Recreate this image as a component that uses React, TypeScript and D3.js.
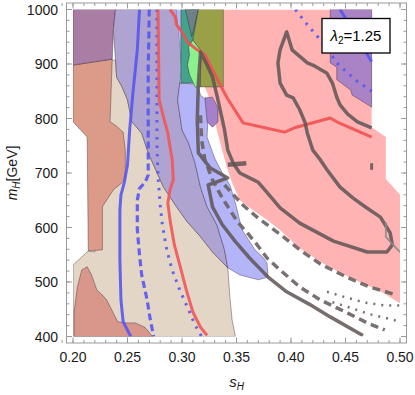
import React from "react";
import * as d3 from "d3";

type Pt = [number, number];

// axes
const xMajor = [0.2, 0.25, 0.3, 0.35, 0.4, 0.45, 0.5];
const yMajor = [400, 500, 600, 700, 800, 900, 1000];
const xMinor = d3.range(19, 51).map((i) => i / 100);
const yMinor = d3.range(400, 1001, 20);

// shaded regions (s_H, m_H)
const beige: Pt[] = [[0.2, 400], [0.349, 400], [0.346, 430], [0.344, 471], [0.343, 498], [0.342, 526], [0.328, 555], [0.317, 583], [0.305, 610], [0.295, 638], [0.283, 674], [0.269, 737], [0.263, 773], [0.254, 794], [0.25, 834], [0.245, 858], [0.24, 876], [0.239, 907], [0.229, 907], [0.22, 555], [0.214, 557], [0.2, 531]];
const salmonTop: Pt[] = [[0.2, 898], [0.236, 909], [0.234, 794], [0.24, 786], [0.246, 775], [0.248, 742], [0.248, 687], [0.237, 669], [0.227, 638], [0.227, 559], [0.214, 557], [0.213, 766], [0.2, 794]];
const salmonLow: Pt[] = [[0.201, 400], [0.201, 445], [0.204, 491], [0.208, 522], [0.213, 528], [0.217, 513], [0.222, 485], [0.227, 476], [0.231, 467], [0.237, 443], [0.241, 427], [0.248, 425], [0.257, 425], [0.266, 417], [0.273, 400]];
const purpleLeft: Pt[] = [[0.2, 1000], [0.239, 1000], [0.237, 962], [0.236, 909], [0.2, 898]];
const lavender: Pt[] = [[0.239, 1000], [0.295, 1000], [0.298, 939], [0.3, 889], [0.298, 865], [0.296, 834], [0.3, 779], [0.306, 755], [0.312, 718], [0.317, 674], [0.323, 638], [0.332, 605], [0.339, 559], [0.342, 526], [0.328, 555], [0.317, 583], [0.305, 610], [0.295, 638], [0.283, 674], [0.269, 737], [0.263, 773], [0.254, 794], [0.25, 834], [0.245, 858], [0.24, 876], [0.239, 907], [0.237, 962]];
const pink: Pt[] = [[0.338, 1000], [0.474, 1000], [0.474, 784], [0.487, 766], [0.487, 689], [0.5, 660], [0.5, 461], [0.482, 483], [0.463, 500], [0.445, 517], [0.427, 537], [0.408, 562], [0.39, 595], [0.378, 614], [0.365, 632], [0.353, 650], [0.346, 682], [0.341, 711], [0.332, 779], [0.328, 816], [0.324, 843], [0.321, 858], [0.338, 858]];
const blueSliver: Pt[] = [[0.295, 1000], [0.299, 1000], [0.299, 865], [0.298, 865], [0.3, 889], [0.298, 939]];
const blueRegion: Pt[] = [[0.298, 865], [0.314, 863], [0.317, 843], [0.322, 834], [0.324, 806], [0.323, 766], [0.33, 727], [0.337, 700], [0.344, 678], [0.349, 645], [0.355, 596], [0.367, 559], [0.374, 546], [0.378, 535], [0.379, 509], [0.37, 504], [0.353, 513], [0.342, 526], [0.339, 559], [0.332, 605], [0.323, 638], [0.317, 674], [0.312, 718], [0.306, 755], [0.3, 779], [0.296, 834]];
const purpleSliver: Pt[] = [[0.321, 838], [0.328, 839], [0.333, 819], [0.333, 794], [0.328, 784], [0.323, 794]];
const purpleRight: Pt[] = [[0.436, 1000], [0.474, 1000], [0.474, 821], [0.456, 843], [0.455, 852], [0.442, 871], [0.442, 894], [0.436, 902]];
const teal: Pt[] = [[0.299, 1000], [0.315, 1000], [0.31, 944], [0.306, 931], [0.307, 917], [0.305, 898], [0.307, 880], [0.312, 865], [0.299, 865]];
const slate: Pt[] = [[0.303, 1000], [0.315, 1000], [0.309, 950]];
const green: Pt[] = [[0.31, 944], [0.317, 926], [0.317, 858], [0.312, 858], [0.307, 880], [0.305, 898], [0.307, 917], [0.306, 931]];
const olive: Pt[] = [[0.315, 1000], [0.338, 1000], [0.338, 858], [0.317, 858], [0.317, 926], [0.31, 944]];

// curves
const blueSolid: Pt[] = [[0.261, 1000], [0.259, 926], [0.255, 847], [0.252, 779], [0.25, 715], [0.247, 682], [0.244, 660], [0.243, 632], [0.243, 541], [0.244, 467], [0.246, 427], [0.253, 400]];
const blueDashed: Pt[] = [[0.27, 1000], [0.269, 889], [0.269, 779], [0.269, 696], [0.266, 682], [0.261, 672], [0.259, 650], [0.259, 596], [0.261, 550], [0.263, 513], [0.268, 467], [0.271, 430], [0.274, 400]];
const blueDotted: Pt[] = [[0.277, 1000], [0.277, 834], [0.277, 755], [0.278, 693], [0.28, 641], [0.282, 605], [0.286, 559], [0.291, 522], [0.298, 485], [0.306, 449], [0.312, 421], [0.318, 400]];
const blueSolidRight: Pt[] = [[0.445, 1000], [0.474, 904]];
const blueDottedRight: Pt[] = [[0.404, 1000], [0.415, 972], [0.427, 944], [0.436, 920], [0.442, 902], [0.451, 885], [0.461, 868], [0.474, 850]];
const redLeft: Pt[] = [[0.278, 1000], [0.279, 834], [0.283, 803], [0.287, 773], [0.291, 724], [0.292, 687], [0.289, 669], [0.287, 645], [0.289, 614], [0.293, 568], [0.298, 531], [0.304, 485], [0.31, 445], [0.317, 417], [0.323, 402]];
const redRight: Pt[] = [[0.289, 1000], [0.294, 986], [0.295, 972], [0.3, 959], [0.305, 940], [0.314, 926], [0.321, 917], [0.328, 889], [0.341, 839], [0.356, 792], [0.376, 783], [0.394, 775], [0.405, 784], [0.436, 801], [0.442, 794], [0.474, 766]];
const graySolid: Pt[] = [[0.474, 783], [0.461, 794], [0.452, 808], [0.445, 825], [0.442, 839], [0.438, 865], [0.433, 883], [0.422, 896], [0.415, 902], [0.401, 926], [0.396, 959], [0.39, 926], [0.388, 902], [0.39, 865], [0.396, 843], [0.402, 838], [0.408, 816], [0.413, 792], [0.415, 773], [0.42, 742], [0.427, 724], [0.433, 706], [0.445, 674], [0.457, 654], [0.468, 638], [0.482, 619], [0.491, 590], [0.493, 568], [0.488, 555], [0.47, 555], [0.439, 575], [0.408, 608], [0.39, 636], [0.376, 669], [0.37, 683], [0.362, 691], [0.353, 700], [0.347, 718], [0.342, 742], [0.339, 779], [0.335, 816], [0.332, 843], [0.328, 876], [0.323, 898], [0.317, 922], [0.315, 865], [0.314, 797], [0.315, 737], [0.326, 709], [0.342, 691], [0.324, 678], [0.328, 638], [0.337, 605], [0.349, 574], [0.362, 544], [0.379, 509], [0.396, 482], [0.417, 459], [0.436, 436], [0.466, 402]];
const grayStub: Pt[] = [[0.342, 715], [0.359, 718]];
const grayTick: Pt[] = [[0.474, 718], [0.474, 706]];
const grayThin: Pt[] = [[0.487, 610], [0.487, 583], [0.5, 555]];
const grayDashedMid: Pt[] = [[0.317, 806], [0.318, 761], [0.321, 724], [0.328, 687], [0.337, 654], [0.344, 632], [0.351, 610], [0.36, 590], [0.369, 568], [0.378, 544], [0.39, 522], [0.408, 491], [0.427, 467], [0.452, 443], [0.47, 425], [0.486, 412]];
const grayDashedTop: Pt[] = [[0.339, 678], [0.356, 641], [0.37, 617], [0.393, 583], [0.408, 559], [0.427, 533], [0.451, 509], [0.472, 491], [0.497, 476]];
const grayDotted1: Pt[] = [[0.433, 482], [0.45, 472], [0.468, 462], [0.486, 457], [0.5, 457]];
const grayDotted2: Pt[] = [[0.438, 463], [0.454, 453], [0.472, 441], [0.491, 432], [0.5, 427]];

const regions: { pts: Pt[]; fill: string; edge: boolean }[] = [
  { pts: beige, fill: "#e4d6c7", edge: true },
  { pts: salmonTop, fill: "#dc9a88", edge: true },
  { pts: purpleLeft, fill: "#a97da4", edge: true },
  { pts: salmonLow, fill: "#d9968a", edge: true },
  { pts: lavender, fill: "#afa3d1", edge: true },
  { pts: pink, fill: "#ffb3b3", edge: false },
  { pts: blueSliver, fill: "#b7b7f7", edge: false },
  { pts: blueRegion, fill: "#b4b4f9", edge: true },
  { pts: purpleSliver, fill: "#a680c8", edge: true },
  { pts: purpleRight, fill: "#a983c6", edge: true },
  { pts: teal, fill: "#43a38d", edge: true },
  { pts: slate, fill: "#6d8288", edge: true },
  { pts: green, fill: "#8cf08c", edge: true },
  { pts: olive, fill: "#9aa047", edge: true },
];

const curves: { pts: Pt[]; color: string; w: number; dash?: string; op?: number }[] = [
  { pts: blueSolid, color: "#5656ee", w: 3 },
  { pts: blueDashed, color: "#5656ee", w: 3.2, dash: "7,4" },
  { pts: blueDotted, color: "#5656ee", w: 3, dash: "2.5,6" },
  { pts: blueSolidRight, color: "#5656ee", w: 3 },
  { pts: blueDottedRight, color: "#5656ee", w: 3, dash: "2.5,6" },
  { pts: redLeft, color: "#f25656", w: 3, op: 0.9 },
  { pts: redRight, color: "#f25050", w: 3, op: 0.9 },
  { pts: graySolid, color: "#5e5454", w: 3.5, op: 0.85 },
  { pts: grayStub, color: "#5e5454", w: 4.5, op: 0.85 },
  { pts: grayTick, color: "#5e5454", w: 3, op: 0.85 },
  { pts: grayThin, color: "#8a8a8a", w: 1.8, op: 0.9 },
  { pts: grayDashedMid, color: "#6a6262", w: 3.5, dash: "8,5", op: 0.9 },
  { pts: grayDashedTop, color: "#6a6262", w: 3.5, dash: "8,5", op: 0.9 },
  { pts: grayDotted1, color: "#6a6262", w: 2.5, dash: "2,6", op: 0.9 },
  { pts: grayDotted2, color: "#6a6262", w: 2.5, dash: "2,6", op: 0.9 },
];

export default function App() {
  const x = d3.scaleLinear().domain([0.2, 0.5]).range([73, 400]);
  const y = d3.scaleLinear().domain([400, 1000]).range([336.5, 9.5]);
  const line = d3.line<Pt>().x((d) => x(d[0])).y((d) => y(d[1]));
  const pad = 6.5;
  const fx0 = x(0.2) - pad, fx1 = x(0.5) + pad;
  const fy0 = y(1000) - pad, fy1 = y(400) + pad;
  const axisColor = "#9a9a9a";
  const font = "'Liberation Sans', Arial, sans-serif";

  return (
    <svg width={415} height={395} style={{ position: "absolute", left: 0, top: 0, background: "#fff" }} fontFamily={font}>
      <defs>
        <clipPath id="plotClip">
          <rect x={x(0.2)} y={y(1000)} width={x(0.5) - x(0.2)} height={y(400) - y(1000)} />
        </clipPath>
      </defs>

      <g clipPath="url(#plotClip)">
        {regions.map((r, i) => (
          <path key={i} d={line(r.pts) + "Z"} fill={r.fill}
            stroke={r.edge ? "rgba(40,30,40,0.55)" : "none"} strokeWidth={0.7} strokeLinejoin="round" />
        ))}
        {curves.map((c, i) => (
          <path key={i} d={line(c.pts) ?? ""} fill="none" stroke={c.color} strokeWidth={c.w}
            strokeDasharray={c.dash} strokeOpacity={c.op ?? 0.9} strokeLinejoin="round" />
        ))}
      </g>

      {/* frame */}
      <rect x={fx0} y={fy0} width={fx1 - fx0} height={fy1 - fy0} fill="none" stroke={axisColor} strokeWidth={1} />

      {/* minor ticks */}
      {xMinor.map((v) => (
        <g key={"xm" + v}>
          <line x1={x(v)} x2={x(v)} y1={fy1} y2={fy1 - 3} stroke={axisColor} />
          <line x1={x(v)} x2={x(v)} y1={fy0} y2={fy0 + 3} stroke={axisColor} />
        </g>
      ))}
      {yMinor.map((v) => (
        <g key={"ym" + v}>
          <line x1={fx0} x2={fx0 + 3} y1={y(v)} y2={y(v)} stroke={axisColor} />
          <line x1={fx1} x2={fx1 - 3} y1={y(v)} y2={y(v)} stroke={axisColor} />
        </g>
      ))}
      {/* major ticks and labels */}
      {xMajor.map((v) => (
        <g key={"x" + v}>
          <line x1={x(v)} x2={x(v)} y1={fy1} y2={fy1 - 5.5} stroke={axisColor} />
          <line x1={x(v)} x2={x(v)} y1={fy0} y2={fy0 + 5.5} stroke={axisColor} />
          <text x={x(v)} y={362} textAnchor="middle" fontSize={14} fill="#1a1a1a">{d3.format(".2f")(v)}</text>
        </g>
      ))}
      {yMajor.map((v) => (
        <g key={"y" + v}>
          <line x1={fx0} x2={fx0 + 5.5} y1={y(v)} y2={y(v)} stroke={axisColor} />
          <line x1={fx1} x2={fx1 - 5.5} y1={y(v)} y2={y(v)} stroke={axisColor} />
          <text x={58} y={y(v)} dy="0.36em" textAnchor="end" fontSize={14} fill="#1a1a1a">{v}</text>
        </g>
      ))}

      {/* axis labels */}
      <text transform={`translate(17,${(y(400) + y(1000)) / 2}) rotate(-90)`} textAnchor="middle" fontSize={14} fill="#1a1a1a">
        <tspan fontStyle="italic">m</tspan>
        <tspan fontStyle="italic" fontSize={10} dy={3}>H</tspan>
        <tspan dy={-3}>[GeV]</tspan>
      </text>
      <text x={(x(0.2) + x(0.5)) / 2} y={387} textAnchor="middle" fontSize={15} fill="#1a1a1a">
        <tspan fontStyle="italic">s</tspan>
        <tspan fontStyle="italic" fontSize={10} dy={3}>H</tspan>
      </text>

      {/* label box */}
      <rect x={322} y={18.5} width={68} height={34.5} fill="#fff" stroke="#000" strokeWidth={1.3} />
      <text x={356} y={41} textAnchor="middle" fontSize={15} fill="#000">
        <tspan fontStyle="italic">λ</tspan>
        <tspan fontSize={10} dy={3}>2</tspan>
        <tspan dy={-3}>=1.25</tspan>
      </text>
    </svg>
  );
}
